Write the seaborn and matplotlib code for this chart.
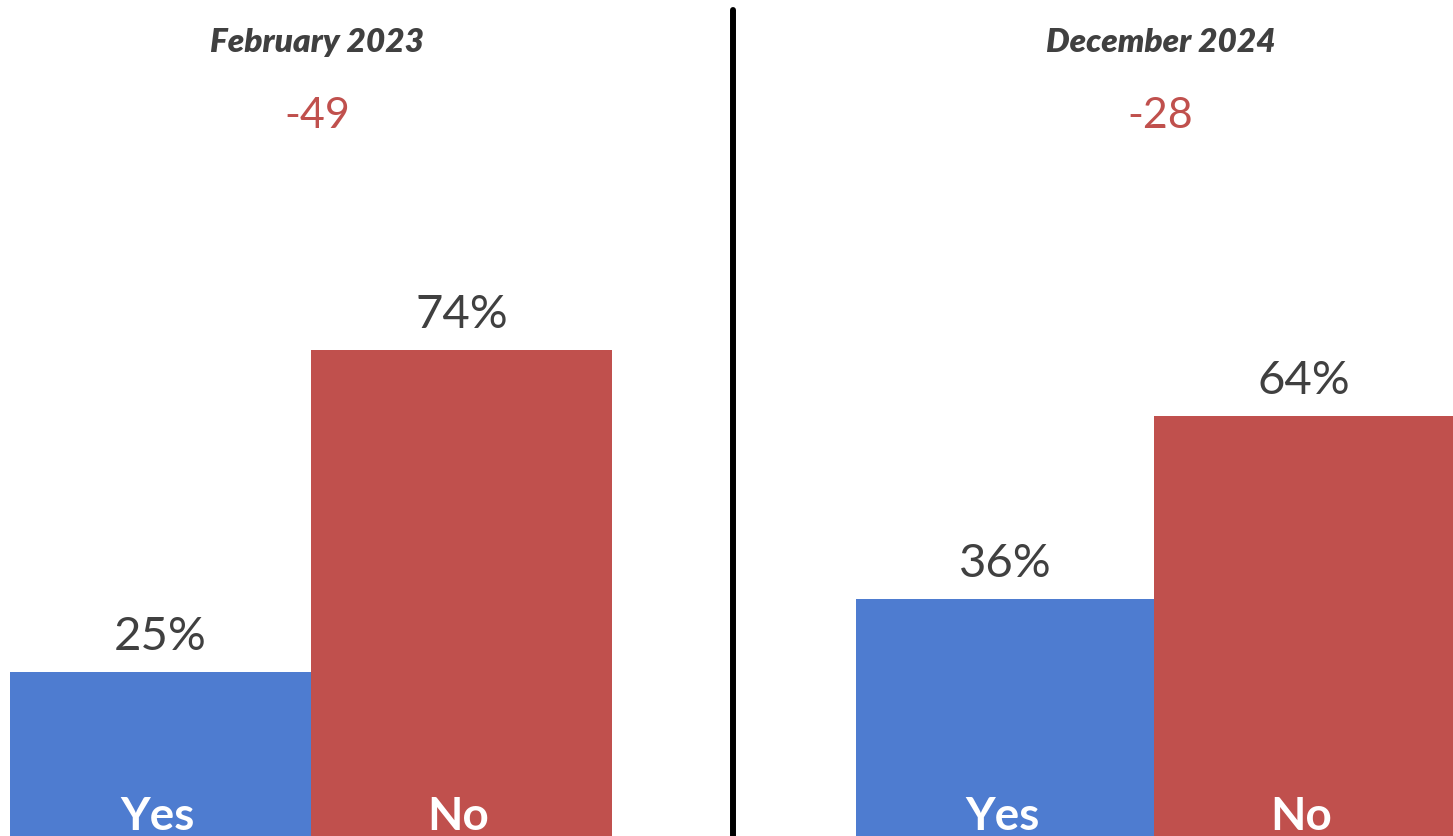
import matplotlib
matplotlib.use("Agg")
import matplotlib.pyplot as plt
from matplotlib.lines import Line2D
import pandas as pd
import seaborn as sns

# ----------------------------
# Data
# ----------------------------
answers = ["Yes", "No"]
feb_2023 = [25, 74]
dec_2024 = [36, 64]
panel_titles = ["February 2023", "December 2024"]
net_labels = ["-49", "-28"]

BLUE = "#4E7CD0"
RED = "#C0504D"
GRAY = "#404040"

sns.set_theme(style="white")
plt.rcParams["font.family"] = ["Lato", "DejaVu Sans"]

W, H = 1453, 837
fig = plt.figure(figsize=(W / 100, H / 100), dpi=100)

PX_PER_PCT = 6.57
ytop = H / PX_PER_PCT

# axes placement in pixels: (left, width, xlim)
panels = [
    (0, 733, (-0.533, 1.902)),
    (733, 720, (-0.911, 1.5)),
]

for (left_px, width_px, xlim), values, title, net in zip(
        panels, [feb_2023, dec_2024], panel_titles, net_labels):
    ax = fig.add_axes([left_px / W, 0, width_px / W, 1])
    df = pd.DataFrame({"answer": answers, "pct": values})
    sns.barplot(data=df, x="answer", y="pct", hue="answer",
                palette=[BLUE, RED], width=1, legend=False, ax=ax,
                saturation=1, linewidth=0)
    ax.set_xlim(*xlim)
    ax.set_ylim(0, ytop)
    ax.set_axis_off()

    for i, (ans, v) in enumerate(zip(answers, values)):
        ax.text(i, v + 3.5, f"{v}%", ha="center", va="baseline",
                fontsize=34, color=GRAY)
        ax.text(i - 0.01, 1.07, ans, ha="center", va="baseline",
                fontsize=33, fontweight="bold", color="white")

    ax.text(0.52, (H - 43) / PX_PER_PCT, title, ha="center", va="center",
            fontsize=24, fontweight="heavy", fontstyle="italic", color=GRAY)
    ax.text(0.52, (H - 116) / PX_PER_PCT, net, ha="center", va="center",
            fontsize=31, color=RED)

# divider line between the two panels
fig.add_artist(Line2D([733 / W, 733 / W], [0, 1 - 11 / H],
                      color="black", linewidth=4.3, transform=fig.transFigure))

fig.savefig("out.png", dpi=100)
